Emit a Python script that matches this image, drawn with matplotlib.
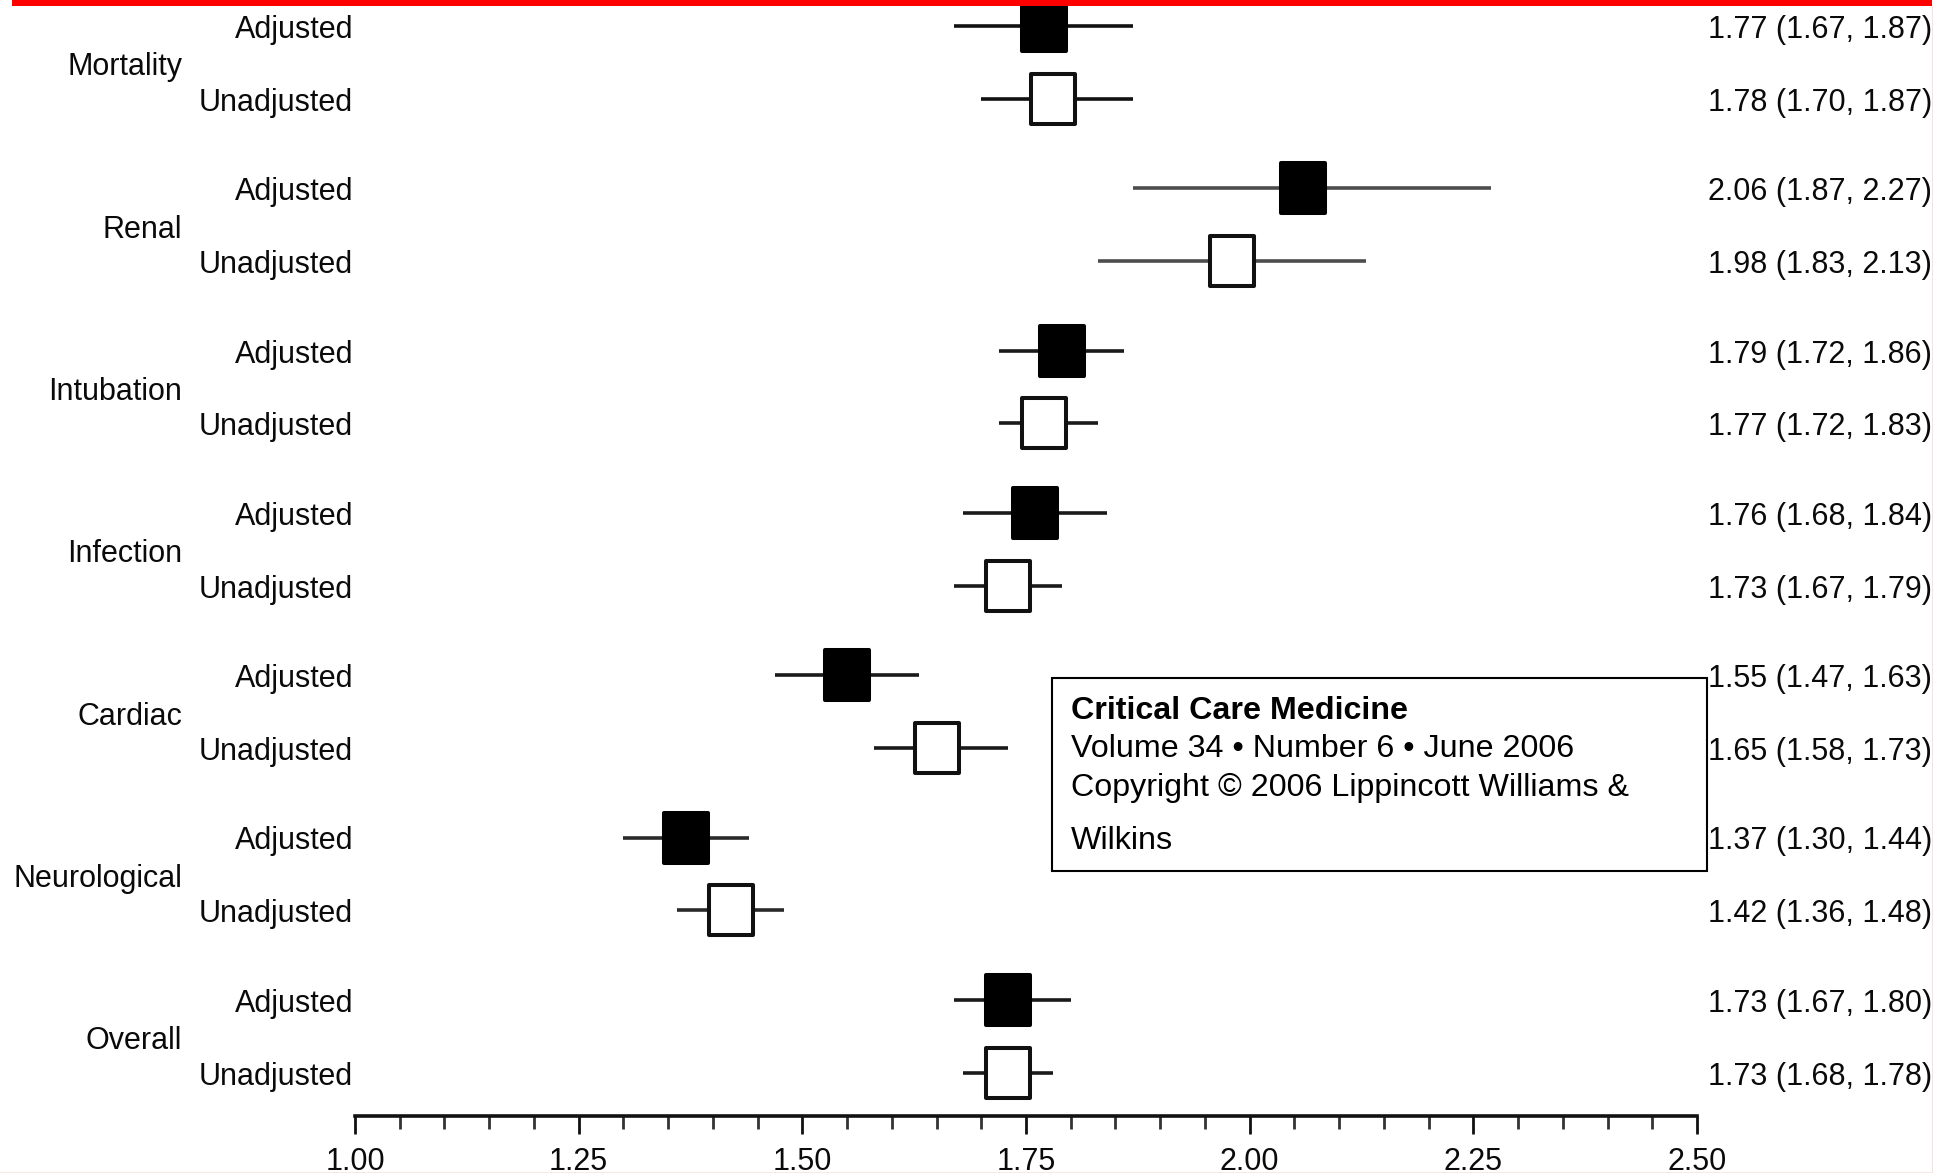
import matplotlib
matplotlib.use("Agg")
import matplotlib.pyplot as plt
from matplotlib import font_manager as fm
from matplotlib.path import Path
from matplotlib.patches import Rectangle
from matplotlib.transforms import blended_transform_factory
from matplotlib.ticker import MultipleLocator, FormatStrFormatter

# ---------------- data ----------------
groups = ["Mortality", "Renal", "Intubation", "Infection", "Cardiac", "Neurological", "Overall"]
row_labels = ["Adjusted", "Unadjusted"]
adj_or = [1.77, 2.06, 1.79, 1.76, 1.55, 1.37, 1.73]
adj_lo = [1.67, 1.87, 1.72, 1.68, 1.47, 1.30, 1.67]
adj_hi = [1.87, 2.27, 1.86, 1.84, 1.63, 1.44, 1.80]
unadj_or = [1.78, 1.98, 1.77, 1.73, 1.65, 1.42, 1.73]
unadj_lo = [1.70, 1.83, 1.72, 1.67, 1.58, 1.36, 1.68]
unadj_hi = [1.87, 2.13, 1.83, 1.79, 1.73, 1.48, 1.78]
x_ticks = [1.00, 1.25, 1.50, 1.75, 2.00, 2.25, 2.50]
box_title = "Critical Care Medicine"
box_lines = ["Volume 34 \u2022 Number 6 \u2022 June 2006",
             "Copyright \u00a9 2006 Lippincott Williams &",
             "Wilkins"]

# ---------------- styles ----------------
whisker_colors = ["#111111", "#4d4d4d", "#1a1a1a", "#1a1a1a", "#1a1a1a", "#2a2a2a", "#1a1a1a"]

names = {f.name for f in fm.fontManager.ttflist}
if "Liberation Sans Narrow" in names:
    NARROW = ["Liberation Sans Narrow", "DejaVu Sans"]
    lab_fs = 27
else:
    NARROW = ["Liberation Sans", "DejaVu Sans"]
    lab_fs = 22
REG = ["Liberation Sans", "DejaVu Sans"]
TXT = "#0a0a0a"

W, H = 1950, 1173
fig = plt.figure(figsize=(W / 100, H / 100), dpi=100)
fig.patch.set_facecolor("white")

ax_left, ax_right, ax_bottom_px = 355, 1697, 1115.5
ax = fig.add_axes([ax_left / W, (H - ax_bottom_px) / H, (ax_right - ax_left) / W, ax_bottom_px / H])
ax.set_facecolor("none")
ax.set_xlim(x_ticks[0], x_ticks[-1])
ax.set_ylim(ax_bottom_px, 0)  # y in pixel-like layout units, top at 0

group_step, first_row, pair_gap = 162.3, 26.0, 72.7
y_adj = [first_row + g * group_step for g in range(len(groups))]
y_un = [y + pair_gap for y in y_adj]

# whiskers
ax.hlines(y_adj, adj_lo, adj_hi, colors=whisker_colors, linewidth=2.6, zorder=2, clip_on=False)
ax.hlines(y_un, unadj_lo, unadj_hi, colors=whisker_colors, linewidth=2.6, zorder=2, clip_on=False)

# rectangular (slightly tall) markers
mw, mh = 0.878, 1.0
rect = Path([(-mw / 2, -mh / 2), (mw / 2, -mh / 2), (mw / 2, mh / 2), (-mw / 2, mh / 2), (-mw / 2, -mh / 2)],
            [Path.MOVETO, Path.LINETO, Path.LINETO, Path.LINETO, Path.CLOSEPOLY])
ax.plot(adj_or, y_adj, linestyle="none", marker=rect, markersize=35.3, markerfacecolor="black",
        markeredgecolor="black", markeredgewidth=2.9, zorder=3, clip_on=False)
ax.plot(unadj_or, y_un, linestyle="none", marker=rect, markersize=35.3, markerfacecolor="white",
        markeredgecolor="#111111", markeredgewidth=2.9, zorder=3, clip_on=False)

# axis styling
for s in ["left", "right", "top"]:
    ax.spines[s].set_visible(False)
ax.spines["bottom"].set_linewidth(2.6)
ax.spines["bottom"].set_color("#111111")
ax.set_yticks([])
ax.xaxis.set_major_locator(MultipleLocator(0.25))
ax.xaxis.set_minor_locator(MultipleLocator(0.05))
ax.xaxis.set_major_formatter(FormatStrFormatter("%.2f"))
ax.tick_params(axis="x", which="major", direction="out", length=13, width=2.0, color="#111111",
               pad=10, labelsize=lab_fs, labelcolor=TXT)
ax.tick_params(axis="x", which="minor", direction="out", length=9.5, width=2.0, color="#333333")
for lab in ax.get_xticklabels():
    lab.set_family(NARROW)

trans = blended_transform_factory(fig.transFigure, ax.transData)

# left labels and right CI labels
for g, name in enumerate(groups):
    ax.text(353 / W, y_adj[g] + 12, row_labels[0], transform=trans, ha="right", va="baseline",
            fontsize=lab_fs, family=NARROW, color=TXT, clip_on=False)
    ax.text(353 / W, y_un[g] + 12, row_labels[1], transform=trans, ha="right", va="baseline",
            fontsize=lab_fs, family=NARROW, color=TXT, clip_on=False)
    ax.text(182 / W, (y_adj[g] + y_un[g]) / 2 + 13, name, transform=trans, ha="right", va="baseline",
            fontsize=lab_fs, family=NARROW, color=TXT, clip_on=False)
    ax.text(1708 / W, y_adj[g] + 12, f"{adj_or[g]:.2f} ({adj_lo[g]:.2f}, {adj_hi[g]:.2f})",
            transform=trans, ha="left", va="baseline", fontsize=lab_fs, family=NARROW,
            color=TXT, clip_on=False)
    ax.text(1708 / W, y_un[g] + 12, f"{unadj_or[g]:.2f} ({unadj_lo[g]:.2f}, {unadj_hi[g]:.2f})",
            transform=trans, ha="left", va="baseline", fontsize=lab_fs, family=NARROW,
            color=TXT, clip_on=False)

# journal box
bx0, by0, bx1, by1 = 1052, 678, 1707, 870.5
fig.patches.append(Rectangle((bx0 / W, 1 - by1 / H), (bx1 - bx0) / W, (by1 - by0) / H,
                             transform=fig.transFigure, facecolor="white", edgecolor="black",
                             linewidth=1.5, zorder=4))
fig.text(1071 / W, 1 - 719 / H, box_title, fontsize=23.2, fontweight="bold", family=REG,
         ha="left", va="baseline", zorder=5)
for line, base in zip(box_lines, [757, 796, 849]):
    fig.text(1071 / W, 1 - base / H, line, fontsize=23.2, family=REG, ha="left", va="baseline", zorder=5)

# page frame: red top bar, crop at right edge, faint pink borders
fig.patches.append(Rectangle((1933 / W, 0), (W - 1933) / W, 1, transform=fig.transFigure,
                             facecolor="white", edgecolor="none", zorder=10))
fig.patches.append(Rectangle((12 / W, 1 - 5.5 / H), (1932 - 12) / W, 5.5 / H, transform=fig.transFigure,
                             facecolor="#ff0000", edgecolor="none", zorder=11))
fig.patches.append(Rectangle((1931.5 / W, 0), 1.5 / W, 1 - 5.5 / H, transform=fig.transFigure,
                             facecolor="#f8e0e0", edgecolor="none", zorder=11))
fig.patches.append(Rectangle((0, 0), 1932 / W, 1.5 / H, transform=fig.transFigure,
                             facecolor="#fbe6e6", edgecolor="none", zorder=11))

fig.savefig("out.png", dpi=100, facecolor="white")
